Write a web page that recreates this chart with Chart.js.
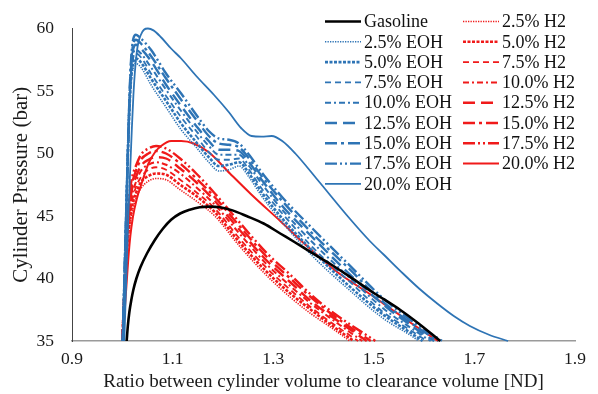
<!DOCTYPE html>
<html><head><meta charset="utf-8">
<script src="https://cdn.jsdelivr.net/npm/chart.js@4.4.1/dist/chart.umd.min.js"></script>
<style>html,body{margin:0;padding:0;background:#fff}#wrap{width:598px;height:394px;position:relative}</style>
</head><body><div id="wrap"><canvas id="c" width="598" height="394"></canvas></div>
<script>
// ---- tick values ----
const xTicks = [0.9, 1.1, 1.3, 1.5, 1.7, 1.9];
const yTicks = [35, 40, 45, 50, 55, 60];

// ---- series labels ----
const eohLabels = ['2.5% EOH','5.0% EOH','7.5% EOH','10.0% EOH','12.5% EOH','15.0% EOH','17.5% EOH'];
const h2Labels = ['2.5% H2','5.0% H2','7.5% H2','10.0% H2','12.5% H2','15.0% H2','17.5% H2'];

// ---- Gasoline [x, y] ----
const gasoline = [[1.0087,35],[1.011,36.2],[1.014,37.3],[1.018,38.3],[1.022,39.1],[1.028,40.0],[1.036,40.9],[1.049,42.0],[1.065,43.1],[1.081,44.0],[1.097,44.7],[1.115,45.2],[1.134,45.5],[1.154,45.7],[1.174,45.75],[1.194,45.7],[1.219,45.45],[1.247,45.0],[1.281,44.4],[1.314,43.6],[1.343,42.9],[1.373,42.15],[1.412,41.2],[1.452,40.15],[1.498,38.9],[1.552,37.5],[1.589,36.4],[1.632,35]];

// ---- 20% EOH and 20% H2 [x, y] ----
const eoh200 = [[1.004,35],[1.008,40],[1.012,45],[1.016,49],[1.019,52],[1.022,54.6],[1.026,57.0],[1.031,58.7],[1.037,59.5],[1.043,59.9],[1.051,60.0],[1.062,59.85],[1.077,59.3],[1.097,58.4],[1.117,57.6],[1.147,56.2],[1.182,54.7],[1.212,53.3],[1.237,52.0],[1.257,51.4],[1.277,51.35],[1.297,51.4],[1.318,51.0],[1.344,50.0],[1.388,47.9],[1.452,44.8],[1.492,43.0],[1.520,41.9],[1.558,40.4],[1.590,39.2],[1.626,38.0],[1.659,37.0],[1.691,36.2],[1.729,35.5],[1.767,35.0]];
const h2200 = [[1.000,35],[1.004,37.0],[1.008,39.3],[1.012,41.6],[1.016,43.4],[1.021,44.9],[1.029,46.4],[1.040,47.8],[1.052,49.2],[1.065,50.1],[1.077,50.6],[1.097,51.0],[1.117,51.0],[1.142,50.8],[1.172,50.1],[1.214,48.4],[1.257,46.7],[1.314,44.6],[1.367,42.6],[1.428,40.5],[1.498,38.6],[1.533,37.6],[1.579,36.3],[1.628,35]];

// ---- EOH 2.5..17.5 % (shared x grid, y values, end x at 35 bar) ----
const xEOH = [1.001,1.005,1.009,1.013,1.017,1.022,1.027,1.037,1.057,1.087,1.117,1.147,1.172,1.192,1.212,1.232,1.252,1.277,1.318,1.378,1.448,1.519,1.579];
const eoh25  = [35,41,47,52.0,55.4,56.9,57.2,56.9,55.5,53.7,51.9,50.5,49.3,48.6,48.7,49.0,48.1,46.6,44.5,41.8,39.2,36.8,35.3];
const eoh50  = [35,41,47,52.2,55.7,57.3,57.6,57.3,56.0,54.2,52.4,50.9,49.7,49.0,49.1,49.3,48.4,46.9,44.8,42.2,39.5,37.1,35.5];
const eoh75  = [35,41,47,52.3,56.0,57.7,58.0,57.7,56.4,54.6,52.9,51.4,50.1,49.5,49.5,49.6,48.7,47.2,45.2,42.5,39.9,37.3,35.7];
const eoh100 = [35,41,47,52.5,56.3,58.0,58.3,58.0,56.9,55.1,53.4,51.8,50.6,49.9,49.9,49.9,49.0,47.6,45.5,42.9,40.2,37.6,35.9];
const eoh125 = [35,41,47,52.7,56.6,58.4,58.7,58.4,57.4,55.5,53.8,52.2,51.0,50.3,50.3,50.2,49.3,47.9,45.8,43.3,40.5,37.9,36.1];
const eoh150 = [35,41,47,52.8,56.9,58.8,59.1,58.8,57.8,56.0,54.3,52.7,51.4,50.8,50.7,50.5,49.6,48.2,46.2,43.6,40.9,38.1,36.3];
const eoh175 = [35,41,47,53.0,57.2,59.2,59.5,59.2,58.3,56.4,54.8,53.1,51.8,51.2,51.1,50.8,49.9,48.5,46.5,44.0,41.2,38.4,36.5];
const eohEndX = [1.589,1.597,1.605,1.613,1.620,1.628,1.636];

// ---- H2 2.5..17.5 % ----
const xH2 = [1.000,1.004,1.008,1.013,1.019,1.027,1.037,1.052,1.067,1.087,1.115,1.147,1.184,1.235,1.288,1.334,1.378,1.418];
const h225  = [35,38.5,41.2,43.6,45.2,46.4,47.2,47.8,48.0,47.9,47.1,46.2,45.0,42.5,40.2,38.5,37.1,36.0];
const h250  = [35,38.6,41.5,44.0,45.7,46.8,47.7,48.2,48.4,48.3,47.5,46.6,45.3,42.8,40.5,38.8,37.4,36.2];
const h275  = [35,38.7,41.8,44.5,46.1,47.3,48.1,48.7,48.9,48.7,47.9,46.9,45.6,43.1,40.8,39.1,37.6,36.4];
const h2100 = [35,38.8,42.1,44.9,46.6,47.7,48.6,49.1,49.3,49.1,48.4,47.3,45.9,43.5,41.1,39.4,37.9,36.7];
const h2125 = [35,38.8,42.4,45.3,47.1,48.1,49.0,49.5,49.7,49.6,48.8,47.7,46.2,43.8,41.4,39.7,38.1,36.9];
const h2150 = [35,38.9,42.7,45.8,47.5,48.6,49.5,50.0,50.2,50.0,49.2,48.0,46.5,44.1,41.7,40.0,38.4,37.1];
const h2175 = [35,39.0,43.0,46.2,48.0,49.0,49.9,50.4,50.6,50.4,49.6,48.4,46.8,44.4,42.0,40.3,38.6,37.3];
const h2EndX = [1.452,1.460,1.469,1.477,1.486,1.494,1.503];

// ---- styles ----
const BLUE = '#2E74B5', RED = '#F01A1A', BLACK = '#000000';
const dashStyles = [
  {dash:[1.3,1.2], w:1.6},
  {dash:[3,1.5], w:2.6},
  {dash:[6,4], w:1.8},
  {dash:[6,3,2,3], w:2},
  {dash:[12,6], w:2.4},
  {dash:[12,4,3,4], w:2.4},
  {dash:[12,3,2,3,2,3], w:2.4}
];

function pairs(arr){ return arr.map(p => ({x:p[0], y:p[1]})); }
function grid(xs, ys, endX){ const d = xs.map((x,i)=>({x:x, y:ys[i]})); d.push({x:endX, y:35}); return d; }

const eohSeries = [eoh25,eoh50,eoh75,eoh100,eoh125,eoh150,eoh175];
const h2Series = [h225,h250,h275,h2100,h2125,h2150,h2175];

const datasets = [];
datasets.push({label:'Gasoline', data:pairs(gasoline), borderColor:BLACK, borderWidth:2.6, borderDash:[], col:0, row:0});
eohSeries.forEach((ys,i)=>datasets.push({label:eohLabels[i], data:grid(xEOH, ys, eohEndX[i]), borderColor:BLUE, borderWidth:dashStyles[i].w, borderDash:dashStyles[i].dash, col:0, row:i+1}));
datasets.push({label:'20.0% EOH', data:pairs(eoh200), borderColor:BLUE, borderWidth:1.8, borderDash:[], col:0, row:8});
h2Series.forEach((ys,i)=>datasets.push({label:h2Labels[i], data:grid(xH2, ys, h2EndX[i]), borderColor:RED, borderWidth:dashStyles[i].w, borderDash:dashStyles[i].dash, col:1, row:i}));
datasets.push({label:'20.0% H2', data:pairs(h2200), borderColor:RED, borderWidth:2, borderDash:[], col:1, row:7});
datasets.forEach(d=>{ d.pointRadius=0; d.fill=false; d.cubicInterpolationMode='monotone'; d.clip=6; d.borderCapStyle='butt'; });

const FONT = '"Liberation Serif", "Times New Roman", serif';

const legendPlugin = {
  id:'twoColLegend',
  afterDraw(chart){
    const ctx = chart.ctx;
    const colX = [325, 463], sampleLen = 36, rowY0 = 21.5, rowH = 20.3;
    ctx.save();
    ctx.font = '18px ' + FONT;
    ctx.textBaseline = 'middle';
    ctx.textAlign = 'left';
    chart.data.datasets.forEach(ds=>{
      const x = colX[ds.col], y = rowY0 + ds.row*rowH;
      ctx.strokeStyle = ds.borderColor;
      ctx.lineWidth = ds.borderWidth;
      ctx.setLineDash(ds.borderDash);
      ctx.beginPath(); ctx.moveTo(x, y); ctx.lineTo(x+sampleLen, y); ctx.stroke();
      ctx.setLineDash([]);
      ctx.fillStyle = '#111';
      ctx.fillText(ds.label, x+sampleLen+3, y+1);
    });
    ctx.restore();
  }
};

new Chart(document.getElementById('c'), {
  type:'line',
  data:{datasets},
  plugins:[legendPlugin],
  options:{
    responsive:false, animation:false,
    layout:{padding:{top:16, right:23, left:0, bottom:0}},
    plugins:{legend:{display:false}, tooltip:{enabled:false}},
    scales:{
      x:{type:'linear', min:0.9, max:1.9,
        afterBuildTicks: s => { s.ticks = xTicks.map(v=>({value:v})); },
        afterFit: s => { s.height = 53; },
        grid:{display:false, drawTicks:false, tickLength:0},
        border:{display:true, color:'#9a9a9a', width:1.6},
        ticks:{padding:8, color:'#1a1a1a', font:{family:FONT, size:17.5}, maxRotation:0, callback:v=>v.toFixed(1)},
        title:{display:true, text:'Ratio between cylinder volume to clearance volume [ND]', color:'#1a1a1a', font:{family:FONT, size:19}, padding:{top:0,bottom:1}}
      },
      y:{type:'linear', min:35, max:60,
        afterBuildTicks: s => { s.ticks = yTicks.map(v=>({value:v})); },
        afterFit: s => { s.width = 72; },
        grid:{display:false, drawTicks:false, tickLength:0},
        border:{display:true, color:'#444', width:1},
        ticks:{padding:18, color:'#1a1a1a', font:{family:FONT, size:17.5}},
        title:{display:true, text:'Cylinder Pressure (bar)', color:'#1a1a1a', font:{family:FONT, size:21}, padding:{top:9,bottom:0}}
      }
    }
  }
});
</script></body></html>
